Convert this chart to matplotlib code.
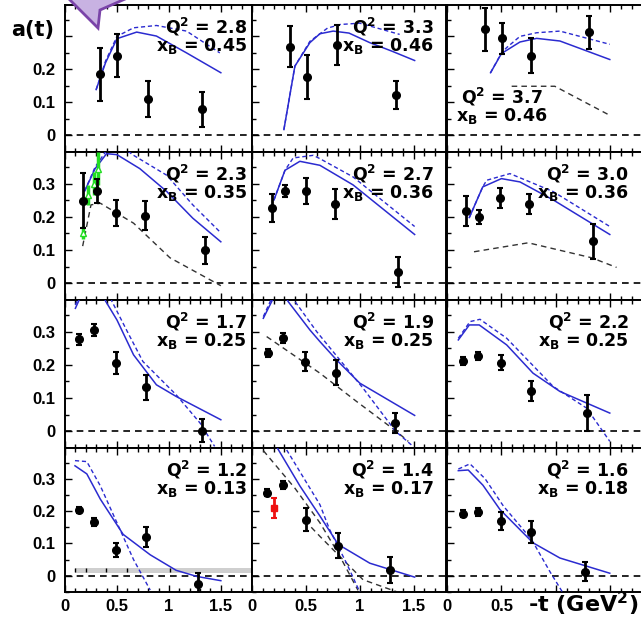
import matplotlib.pyplot as plt
from matplotlib.patches import Polygon
from matplotlib.ticker import MultipleLocator

# -----------------------------
# Fonts
# -----------------------------
plt.rcParams['font.family'] = 'Liberation Sans'
plt.rcParams['font.weight'] = 'bold'
plt.rcParams['mathtext.fontset'] = 'dejavusans'
plt.rcParams['mathtext.default'] = 'bf'
LABEL_FONT = 'DejaVu Sans'

# -----------------------------
# Data (panels row by row, left to right)
# -----------------------------
q2 = ["2.8", "3.3", "3.7", "2.3", "2.7", "3.0", "1.7", "1.9", "2.2", "1.2", "1.4", "1.6"]
xb = ["0.45", "0.46", "0.46", "0.35", "0.36", "0.36", "0.25", "0.25", "0.25", "0.13", "0.17", "0.18"]

data_t = [
    [0.34, 0.50, 0.795, 1.32],
    [0.352, 0.506, 0.79, 1.333],
    [0.349, 0.502, 0.768, 1.305],
    [0.17, 0.305, 0.49, 0.77, 1.35],
    [0.182, 0.306, 0.50, 0.768, 1.35],
    [0.174, 0.296, 0.486, 0.755, 1.337],
    [0.138, 0.28, 0.49, 0.776, 1.32],
    [0.151, 0.284, 0.49, 0.775, 1.324],
    [0.15, 0.287, 0.493, 0.768, 1.287],
    [0.135, 0.28, 0.49, 0.776, 1.276],
    [0.136, 0.284, 0.497, 0.80, 1.278],
    [0.144, 0.287, 0.493, 0.768, 1.266],
]
data_a = [
    [0.185, 0.242, 0.111, 0.079],
    [0.269, 0.178, 0.274, 0.122],
    [0.321, 0.294, 0.242, 0.313],
    [0.248, 0.278, 0.211, 0.204, 0.099],
    [0.226, 0.278, 0.278, 0.239, 0.035],
    [0.218, 0.201, 0.256, 0.239, 0.127],
    [0.277, 0.305, 0.205, 0.132, 0.002],
    [0.235, 0.28, 0.21, 0.177, 0.025],
    [0.212, 0.227, 0.207, 0.12, 0.055],
    [0.203, 0.166, 0.079, 0.12, -0.025],
    [0.257, 0.281, 0.174, 0.093, 0.019],
    [0.192, 0.197, 0.169, 0.135, 0.013],
]
data_err = [
    [0.08, 0.064, 0.055, 0.053],
    [0.063, 0.067, 0.06, 0.043],
    [0.065, 0.048, 0.053, 0.05],
    [0.083, 0.035, 0.04, 0.045, 0.04],
    [0.042, 0.018, 0.039, 0.045, 0.045],
    [0.046, 0.021, 0.03, 0.03, 0.053],
    [0.017, 0.019, 0.033, 0.037, 0.035],
    [0.012, 0.015, 0.028, 0.038, 0.03],
    [0.012, 0.012, 0.022, 0.03, 0.053],
    [0.01, 0.013, 0.022, 0.03, 0.033],
    [0.01, 0.013, 0.037, 0.038, 0.04],
    [0.01, 0.012, 0.028, 0.033, 0.03],
]

# model curves: solid blue
solid_t = [
    [0.30, 0.39, 0.50, 0.69, 0.88, 1.17, 1.50],
    [0.296, 0.398, 0.537, 0.63, 0.753, 0.90, 1.093, 1.30, 1.509],
    [0.40, 0.50, 0.67, 0.823, 1.037, 1.495],
    [0.19, 0.29, 0.40, 0.50, 0.72, 0.98, 1.23, 1.50],
    [0.204, 0.306, 0.444, 0.63, 0.938, 1.509],
    [0.205, 0.328, 0.50, 0.67, 0.975, 1.495],
    [0.10, 0.20, 0.33, 0.39, 0.50, 0.66, 0.88, 1.07, 1.50],
    [0.105, 0.182, 0.25, 0.336, 0.537, 0.63, 0.784, 1.0, 1.509],
    [0.104, 0.205, 0.296, 0.548, 0.79, 1.037, 1.495],
    [0.096, 0.21, 0.34, 0.56, 0.82, 1.07, 1.27, 1.50],
    [0.10, 0.244, 0.444, 0.63, 0.80, 1.093, 1.509],
    [0.104, 0.195, 0.33, 0.486, 0.79, 1.037, 1.495],
]
solid_a = [
    [0.139, 0.22, 0.293, 0.313, 0.301, 0.25, 0.19],
    [0.018, 0.21, 0.281, 0.308, 0.316, 0.31, 0.281, 0.255, 0.227],
    [0.19, 0.248, 0.283, 0.294, 0.286, 0.23],
    [0.278, 0.345, 0.39, 0.387, 0.345, 0.276, 0.196, 0.125],
    [0.251, 0.34, 0.367, 0.355, 0.296, 0.147],
    [0.198, 0.29, 0.315, 0.305, 0.251, 0.147],
    [0.37, 0.44, 0.44, 0.392, 0.335, 0.23, 0.14, 0.105, 0.035],
    [0.34, 0.39, 0.44, 0.39, 0.305, 0.27, 0.215, 0.145, 0.048],
    [0.275, 0.32, 0.32, 0.26, 0.175, 0.12, 0.055],
    [0.34, 0.315, 0.237, 0.128, 0.065, 0.017, -0.002, -0.015],
    [0.47, 0.39, 0.278, 0.185, 0.097, 0.039, -0.004],
    [0.325, 0.327, 0.28, 0.205, 0.102, 0.055, 0.008],
]

# model curves: dashed blue
dash_t = [
    [0.30, 0.39, 0.50, 0.66, 0.88, 1.17, 1.49],
    [0.296, 0.398, 0.537, 0.70, 0.82, 1.0, 1.37],
    [0.40, 0.50, 0.548, 0.67, 0.823, 1.037, 1.495],
    [0.19, 0.29, 0.40, 0.55, 0.66, 0.98, 1.23, 1.50],
    [0.204, 0.306, 0.382, 0.568, 0.63, 0.938, 1.509],
    [0.205, 0.328, 0.364, 0.578, 0.975, 1.495],
    [0.10, 0.20, 0.40, 0.45, 0.60, 0.75, 1.07, 1.30, 1.44],
    [0.105, 0.182, 0.28, 0.40, 0.60, 1.03, 1.333, 1.494],
    [0.104, 0.211, 0.303, 0.548, 0.975, 1.282, 1.495],
    [0.096, 0.21, 0.34, 0.50, 0.66, 0.82],
    [0.10, 0.32, 0.63, 0.72, 0.877, 1.0],
    [0.104, 0.211, 0.35, 0.517, 0.777, 0.945, 1.067],
]
dash_a = [
    [0.139, 0.225, 0.30, 0.326, 0.333, 0.316, 0.25],
    [0.018, 0.21, 0.285, 0.325, 0.336, 0.34, 0.306],
    [0.19, 0.25, 0.266, 0.30, 0.311, 0.316, 0.276],
    [0.278, 0.35, 0.40, 0.41, 0.385, 0.325, 0.236, 0.152],
    [0.251, 0.34, 0.377, 0.385, 0.375, 0.32, 0.171],
    [0.198, 0.29, 0.31, 0.33, 0.276, 0.171],
    [0.38, 0.46, 0.46, 0.392, 0.30, 0.21, 0.11, 0.025, -0.045],
    [0.345, 0.40, 0.46, 0.39, 0.30, 0.13, 0.0, -0.045],
    [0.28, 0.33, 0.337, 0.28, 0.135, 0.07, -0.03],
    [0.356, 0.353, 0.278, 0.164, 0.05, -0.044],
    [0.52, 0.39, 0.22, 0.143, 0.039, -0.05],
    [0.33, 0.346, 0.30, 0.216, 0.112, 0.013, -0.054],
]

# black dashed curves, with the panel each one belongs to
black_panel = [2, 3, 5, 7, 10, 10]
black_t = [
    [0.594, 0.99, 1.495],
    [0.17, 0.25, 0.34, 0.66, 1.01, 1.50],
    [0.248, 0.746, 1.328, 1.557],
    [0.136, 0.63, 0.97, 1.34, 1.45],
    [0.105, 0.40, 0.63, 0.80, 0.984],
    [0.55, 0.63, 0.815, 1.03, 1.34],
]
black_a = [
    [0.149, 0.149, 0.061],
    [0.112, 0.236, 0.241, 0.181, 0.077, -0.007],
    [0.095, 0.122, 0.077, 0.048],
    [0.285, 0.175, 0.09, 0.0, -0.03],
    [0.387, 0.27, 0.164, 0.07, -0.045],
    [0.15, 0.122, 0.06, -0.012, -0.049],
]

# green points (Q2 = 2.3 panel)
green_t = [0.17, 0.225, 0.275, 0.32]
green_a = [0.152, 0.265, 0.30, 0.345]
green_err = [0.02, 0.03, 0.035, 0.05]

# red point (Q2 = 1.4 panel)
red_t = [0.204]
red_a = [0.21]
red_err = [0.03]

# systematic band (Q2 = 1.2 panel)
band_t = [0.096, 1.8]
band_lo = 0.01
band_hi = 0.025
band_ticks = [0.096, 0.2, 0.39, 0.6, 1.01]

# -----------------------------
# Layout (pixels)
# -----------------------------
W, H = 641, 625
col_left = [65, 252, 447]
col_w = [187, 194, 196]
row_top = [5, 152, 300, 448]
row_h = [147, 148, 148, 144]

BLUE = "#2b2bd0"

fig = plt.figure(figsize=(W / 100, H / 100), dpi=100)

for i in range(12):
    r, c = divmod(i, 3)
    ax = fig.add_axes([col_left[c] / W, 1 - (row_top[r] + row_h[r]) / H,
                       col_w[c] / W, row_h[r] / H])
    ax.set_xlim(0, 1.8)
    ax.set_ylim(-0.05, 0.395)

    ax.axhline(0, color="black", ls=(0, (4, 3)), lw=1.2, zorder=1)

    if i == 9:
        ax.fill_between(band_t, band_lo, band_hi, color="#cfcfcf", lw=0, zorder=1)
        ax.vlines(band_ticks, band_lo + 0.002, band_hi, color="black", lw=1, zorder=2)

    for p, bt, ba in zip(black_panel, black_t, black_a):
        if p == i:
            ax.plot(bt, ba, color="#333333", ls=(0, (4, 3)), lw=1, zorder=2)

    ax.plot(dash_t[i], dash_a[i], color=BLUE, ls=(0, (3, 2)), lw=1, zorder=3)
    ax.plot(solid_t[i], solid_a[i], color=BLUE, lw=1.1, zorder=3)

    if i == 3:
        ax.errorbar(green_t, green_a, yerr=green_err, fmt="^", color="#22dd22",
                    mfc="white", mec="#22dd22", ms=5, elinewidth=2.5, capsize=0, zorder=4)
    if i == 10:
        ax.errorbar(red_t, red_a, yerr=red_err, fmt="s", color="#ee1111",
                    ms=4.5, elinewidth=2, capsize=2, capthick=1.5, zorder=4)

    ax.errorbar(data_t[i], data_a[i], yerr=data_err[i], fmt="o", color="black",
                ms=5.5, elinewidth=2, capsize=2, capthick=1.5, zorder=5)

    # panel label
    label = "Q$^2$ = " + q2[i] + "\nx$_B$ = " + xb[i]
    if i == 2:
        ax.text(0.28, 1 - 101 / row_h[r], label, transform=ax.transAxes,
                ha="center", va="center", multialignment="center", linespacing=0.9,
                fontsize=12.5, fontweight="bold", family=LABEL_FONT)
    else:
        ax.text(182 / col_w[c], 1 - 31 / row_h[r], label, transform=ax.transAxes,
                ha="right", va="center", multialignment="right", linespacing=0.85,
                fontsize=12.5, fontweight="bold", family=LABEL_FONT)

    # ticks
    ax.xaxis.set_major_locator(MultipleLocator(0.5))
    ax.xaxis.set_minor_locator(MultipleLocator(0.1))
    ax.yaxis.set_major_locator(MultipleLocator(0.1))
    ax.yaxis.set_minor_locator(MultipleLocator(0.05))
    ax.tick_params(which="both", direction="in", top=True, bottom=True,
                   left=True, right=False, width=1)
    ax.tick_params(which="major", length=5)
    ax.tick_params(which="minor", length=3)
    ax.tick_params(axis="y", pad=7, labelsize=12)
    ax.tick_params(axis="x", pad=5, labelsize=12)
    for s in ax.spines.values():
        s.set_linewidth(1.4)

    if c == 0:
        if r == 0:
            ax.set_yticks([0, 0.1, 0.2, 0.3], ["0", "0.1", "0.2", ""])
        else:
            ax.set_yticks([0, 0.1, 0.2, 0.3], ["0", "0.1", "0.2", "0.3"])
    else:
        ax.set_yticklabels([])
    if r == 3:
        if c == 2:
            ax.set_xticks([0, 0.5, 1, 1.5], ["0", "0.5", "", ""])
        else:
            ax.set_xticks([0, 0.5, 1, 1.5], ["0", "0.5", "1", "1.5"])
    else:
        ax.set_xticklabels([])

# axis titles
fig.text(33 / W, 1 - 30 / H, "a(t)", ha="center", va="center", fontsize=15,
         fontweight="bold", family=LABEL_FONT)
fig.text(583 / W, 1 - 604 / H, "-t (GeV$^2$)", ha="center", va="center",
         fontsize=16, fontweight="bold", family=LABEL_FONT)

# purple callout tail at the top
tail = [(66, -4), (98, 28), (100, 10), (132, -4)]
fig.add_artist(Polygon([(x / W, 1 - y / H) for x, y in tail], closed=True,
                       transform=fig.transFigure, facecolor="#c8b2e2",
                       edgecolor="#7a44a8", lw=2, zorder=10))

plt.savefig("out.png", dpi=100)
